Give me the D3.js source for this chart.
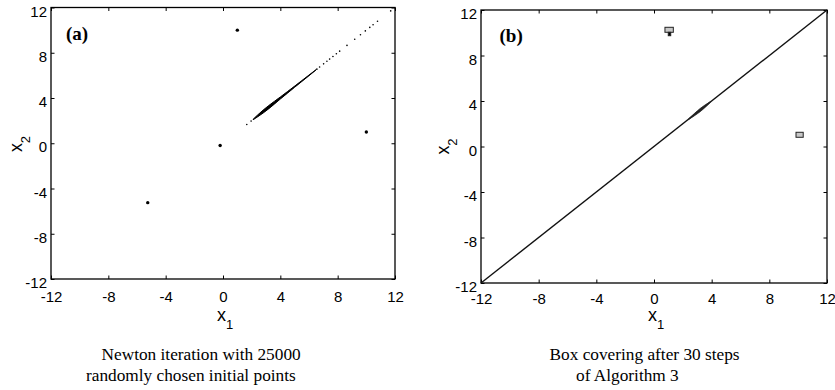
<!DOCTYPE html>
<html><head><meta charset="utf-8">
<script src="https://cdn.jsdelivr.net/npm/d3@7"></script>
<style>
body{margin:0;background:#fff;}
svg{display:block;}
.tick text{font-family:"Liberation Sans",Arial,sans-serif;}
</style></head>
<body>
<svg id="c" width="835" height="390"></svg>
<script>
// ---- data ----
const tickValues = [-12, -8, -4, 0, 4, 8, 12];
const domain = [-12, 12];
// panel (a): limit points of Newton iteration (x1, x2)
const rootsA = [[1, 10], [10, 1], [-0.2, -0.2], [-5.25, -5.25]];
// panel (a): sparse points along the diagonal x1 = x2
const sparseA = [1.66, 1.96, 6.55, 6.74, 7.02, 7.25, 7.44, 7.67, 7.91, 8.14, 8.65, 9.19, 9.59, 9.93, 10.24, 10.47, 10.78, 11.7];
// panel (a): dense band along the diagonal (position, half-thickness)
const bandT = [2.1, 2.4, 2.8, 3.2, 3.6, 4.0, 4.5, 5.0, 5.5, 6.0, 6.5];
const bandW = [0.02, 0.08, 0.13, 0.14, 0.12, 0.09, 0.07, 0.05, 0.04, 0.03, 0.01];
// panel (b): diagonal covering
const diagB = [[-12, -12], [12, 12]];
const blobT = [2.4, 2.8, 3.2, 3.6, 3.9];
const blobW = [0.03, 0.1, 0.14, 0.1, 0.03];
// panel (b): boxes [x1min, x1max, x2min, x2max, fill]
const boxesB = [[0.76, 1.34, 10.04, 10.48, "#c8c8c8"], [0.99, 1.16, 9.74, 10.04, "#000"], [9.85, 10.35, 0.81, 1.25, "#c8c8c8"]];
const captionA = ["Newton iteration with 25000", "randomly chosen initial points"];
const captionB = ["Box covering after 30 steps", "of Algorithm 3"];

const svg = d3.select("#c");
const fmt = d => String(d);

function panel(cfg) {
  const x = d3.scaleLinear().domain(domain).range([cfg.left, cfg.right]);
  const y = d3.scaleLinear().domain(domain).range([cfg.bottom, cfg.top]);
  const g = svg.append("g");
  const tl = 3.5;
  g.append("g").attr("transform", `translate(0,${cfg.bottom})`)
    .call(d3.axisBottom(x).tickValues(tickValues).tickSize(-tl).tickFormat(fmt))
    .call(a => { a.select(".domain").remove(); a.selectAll("text").attr("font-size", 15).attr("fill", "#000").attr("y", 0).attr("dy", 0).attr("transform", `translate(0,${cfg.xtOff})`); a.selectAll("line").attr("stroke", "#000"); });
  g.append("g").attr("transform", `translate(0,${cfg.top})`)
    .call(d3.axisTop(x).tickValues(tickValues).tickSize(-tl).tickFormat(""))
    .call(a => { a.select(".domain").remove(); a.selectAll("line").attr("stroke", "#000"); });
  g.append("g").attr("transform", `translate(${cfg.left},0)`)
    .call(d3.axisLeft(y).tickValues(tickValues).tickSize(-tl).tickFormat(fmt))
    .call(a => { a.select(".domain").remove(); a.selectAll("text").attr("font-size", 15).attr("fill", "#000").attr("dy", 0).attr("x", -4).attr("transform", "translate(0,8.5)"); a.selectAll("line").attr("stroke", "#000"); });
  g.append("g").attr("transform", `translate(${cfg.right},0)`)
    .call(d3.axisRight(y).tickValues(tickValues).tickSize(-tl).tickFormat(""))
    .call(a => { a.select(".domain").remove(); a.selectAll("line").attr("stroke", "#000"); });
  g.append("rect").attr("x", cfg.left).attr("y", cfg.top)
    .attr("width", cfg.right - cfg.left).attr("height", cfg.bottom - cfg.top)
    .attr("fill", "none").attr("stroke", "#000").attr("stroke-width", 1.3);
  const xl = g.append("text").attr("x", (cfg.left + cfg.right) / 2 + 2).attr("y", 321)
    .attr("text-anchor", "middle").attr("font-family", "Liberation Sans,Arial,sans-serif").attr("font-size", 18);
  xl.append("tspan").text("x");
  xl.append("tspan").attr("font-size", 13).attr("dy", 8).text("1");
  const yl = g.append("text").attr("transform", `translate(${cfg.ylx},${cfg.yly}) rotate(-90)`)
    .attr("text-anchor", "middle").attr("font-family", "Liberation Sans,Arial,sans-serif").attr("font-size", 18);
  yl.append("tspan").text("x");
  yl.append("tspan").attr("font-size", 13).attr("dy", 8).text("2");
  g.append("text").attr("x", cfg.tagx).attr("y", cfg.tagy).attr("font-family", "Liberation Serif,Times New Roman,serif")
    .attr("font-weight", "bold").attr("font-size", 19).text(cfg.tag);
  cfg.caption.forEach((t, i) => {
    g.append("text").attr("x", cfg.capx[i]).attr("y", cfg.capy[i])
      .attr("font-family", "Liberation Serif,Times New Roman,serif").attr("font-size", 17.3).text(t);
  });
  return { g, x, y };
}

// panel (a)
const A = panel({ left: 51, right: 395, top: 7.5, bottom: 279, xtOff: 22.5, ylx: 22, yly: 144, tag: "(a)", tagx: 66, tagy: 40,
  caption: captionA, capx: [101.5, 86], capy: [360, 381] });
const bandData = bandT.map((t, i) => ({ t, w: bandW[i] }));
A.g.append("path").datum(bandData)
  .attr("d", d3.area().x(d => A.x(d.t)).y0(d => A.y(d.t - d.w)).y1(d => A.y(d.t + d.w)).curve(d3.curveMonotoneX))
  .attr("fill", "#000").attr("stroke", "#000").attr("stroke-width", 1);
A.g.selectAll("circle.sp").data(sparseA).join("circle").attr("class", "sp")
  .attr("cx", d => A.x(d)).attr("cy", d => A.y(d)).attr("r", 0.8).attr("fill", "#000");
A.g.selectAll("circle.rt").data(rootsA).join("circle").attr("class", "rt")
  .attr("cx", d => A.x(d[0])).attr("cy", d => A.y(d[1])).attr("r", 1.7).attr("fill", "#000");

// panel (b)
const B = panel({ left: 481, right: 827, top: 10, bottom: 283, xtOff: 20.5, ylx: 449, yly: 146.5, tag: "(b)", tagx: 499.5, tagy: 42,
  caption: captionB, capx: [549.5, 576], capy: [360, 381] });
B.g.append("path").datum(diagB)
  .attr("d", d3.line().x(d => B.x(d[0])).y(d => B.y(d[1])))
  .attr("fill", "none").attr("stroke", "#111").attr("stroke-width", 1.4);
const blobData = blobT.map((t, i) => ({ t, w: blobW[i] }));
B.g.append("path").datum(blobData)
  .attr("d", d3.area().x(d => B.x(d.t)).y0(d => B.y(d.t - d.w)).y1(d => B.y(d.t + d.w)).curve(d3.curveMonotoneX))
  .attr("fill", "#222").attr("stroke", "#222").attr("stroke-width", 0.8);
B.g.selectAll("rect.bx").data(boxesB).join("rect").attr("class", "bx")
  .attr("x", d => B.x(d[0])).attr("y", d => B.y(d[3]))
  .attr("width", d => B.x(d[1]) - B.x(d[0])).attr("height", d => B.y(d[2]) - B.y(d[3]))
  .attr("fill", d => d[4]).attr("stroke", "#222").attr("stroke-width", 1);
</script>
</body></html>
